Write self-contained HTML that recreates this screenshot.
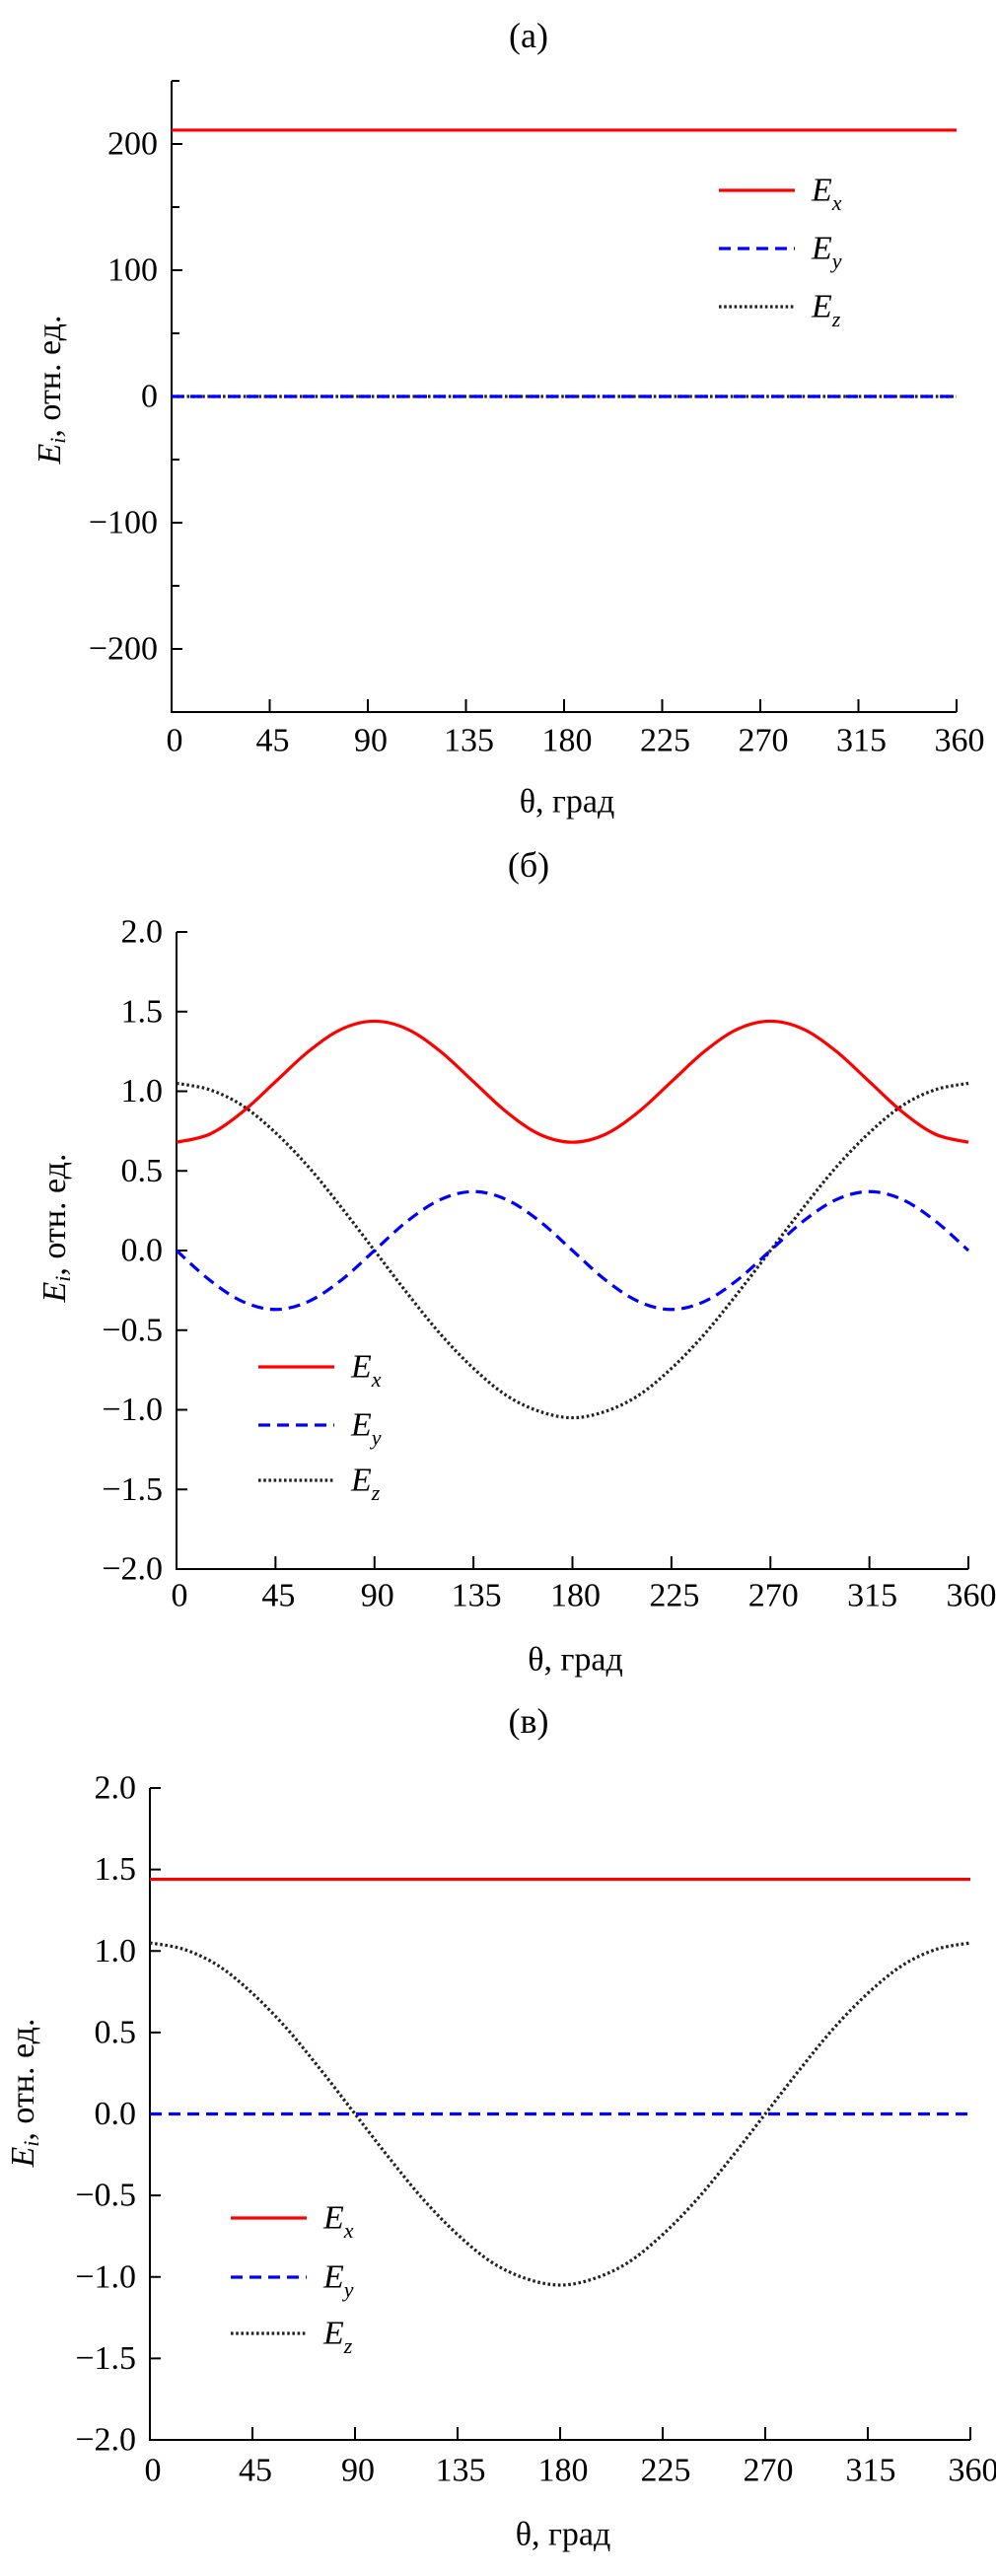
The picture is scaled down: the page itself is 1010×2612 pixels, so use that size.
<!DOCTYPE html>
<html><head><meta charset="utf-8">
<style>
html,body{margin:0;padding:0;background:#fff;}
svg{display:block;font-family:"Liberation Serif","DejaVu Serif",serif;}
</style></head>
<body>
<svg id="fig" width="1010" height="2612" viewBox="0 0 1010 2612" xmlns="http://www.w3.org/2000/svg"></svg>
<script>
// ---- data ----
const thetaTicks = [0,45,90,135,180,225,270,315,360];
const thetaGrid = [0,15,30,45,60,75,90,105,120,135,150,165,180,195,210,225,240,255,270,285,300,315,330,345,360];

// panel (a)
const aTickLabels = ["\u2212200","\u2212100","0","100","200"];
const aTickValues = [-200,-100,0,100,200];
const aEx = [211,211,211,211,211,211,211,211,211,211,211,211,211,211,211,211,211,211,211,211,211,211,211,211,211];
const aEy = [0,0,0,0,0,0,0,0,0,0,0,0,0,0,0,0,0,0,0,0,0,0,0,0,0];
const aEz = [0,0,0,0,0,0,0,0,0,0,0,0,0,0,0,0,0,0,0,0,0,0,0,0,0];

// panel (б)
const bTickValues = [-2,-1.5,-1,-0.5,0,0.5,1,1.5,2];
const bTickLabels = ["\u22122.0","\u22121.5","\u22121.0","\u22120.5","0.0","0.5","1.0","1.5","2.0"];
const bEx = [0.68,0.73,0.87,1.06,1.25,1.39,1.44,1.39,1.25,1.06,0.87,0.73,0.68,0.73,0.87,1.06,1.25,1.39,1.44,1.39,1.25,1.06,0.87,0.73,0.68];
const bEy = [0,-0.185,-0.32,-0.37,-0.32,-0.185,0,0.185,0.32,0.37,0.32,0.185,0,-0.185,-0.32,-0.37,-0.32,-0.185,0,0.185,0.32,0.37,0.32,0.185,0];
const bEz = [1.05,1.01,0.91,0.74,0.525,0.27,0,-0.27,-0.525,-0.74,-0.91,-1.01,-1.05,-1.01,-0.91,-0.74,-0.525,-0.27,0,0.27,0.525,0.74,0.91,1.01,1.05];

// panel (в)
const cEx = [1.44,1.44,1.44,1.44,1.44,1.44,1.44,1.44,1.44,1.44,1.44,1.44,1.44,1.44,1.44,1.44,1.44,1.44,1.44,1.44,1.44,1.44,1.44,1.44,1.44];
const cEy = [0,0,0,0,0,0,0,0,0,0,0,0,0,0,0,0,0,0,0,0,0,0,0,0,0];
const cEz = [1.05,1.01,0.91,0.74,0.525,0.27,0,-0.27,-0.525,-0.74,-0.91,-1.01,-1.05,-1.01,-0.91,-0.74,-0.525,-0.27,0,0.27,0.525,0.74,0.91,1.01,1.05];

const NS = "http://www.w3.org/2000/svg";
const svg = document.getElementById('fig');
function mk(tag, attrs, parent){
  const e = document.createElementNS(NS, tag);
  for (const k in attrs) e.setAttribute(k, attrs[k]);
  (parent||svg).appendChild(e);
  return e;
}
function smoothPath(pts){
  let d = "M"+pts[0][0].toFixed(2)+","+pts[0][1].toFixed(2);
  for (let i=0;i<pts.length-1;i++){
    const p0 = pts[i-1]||pts[i], p1=pts[i], p2=pts[i+1], p3=pts[i+2]||pts[i+1];
    const c1x=p1[0]+(p2[0]-p0[0])/6, c1y=p1[1]+(p2[1]-p0[1])/6;
    const c2x=p2[0]-(p3[0]-p1[0])/6, c2y=p2[1]-(p3[1]-p1[1])/6;
    d += " C"+c1x.toFixed(2)+","+c1y.toFixed(2)+" "+c2x.toFixed(2)+","+c2y.toFixed(2)+" "+p2[0].toFixed(2)+","+p2[1].toFixed(2);
  }
  return d;
}
const styles = {
  Ex:{stroke:"#ff0000", dash:null, w:3.2},
  Ey:{stroke:"#0000ff", dash:"12 7", w:3.2},
  Ez:{stroke:"#222222", dash:"2.6 2.6", w:3.2}
};

function panel(cfg){
  const g = mk('g',{});
  
  
  const X = v => cfg.x0 + (v/360)*(cfg.x1-cfg.x0);
  const Y = v => cfg.yZero - v*cfg.yScale;
  const yTop = Y(cfg.yMax), yBot = Y(cfg.yMin);
  let t = mk('text',{x:cfg.titleX,y:cfg.titleY,'font-size':36,'text-anchor':'middle','dominant-baseline':'central'},g);
  t.textContent = cfg.title;
  
  
  let ax = mk('path',{d:`M${cfg.x0},${yTop} L${cfg.x0},${yBot} L${cfg.x1},${yBot}`,fill:'none',stroke:'#000','stroke-width':2},g);
  
  
  cfg.yTicks.forEach((v,i)=>{
    mk('line',{x1:cfg.x0,x2:cfg.x0+11,y1:Y(v),y2:Y(v),stroke:'#000','stroke-width':2},g);
    const lb = mk('text',{x:cfg.x0-14,y:Y(v),'font-size':34,'text-anchor':'end','dominant-baseline':'central'},g);
    lb.textContent = cfg.yLabels[i];
    
    
  });
  (cfg.yMinor||[]).forEach(v=>{
    mk('line',{x1:cfg.x0,x2:cfg.x0+8,y1:Y(v),y2:Y(v),stroke:'#000','stroke-width':2},g);
  });
  thetaTicks.forEach(v=>{
    mk('line',{x1:X(v),x2:X(v),y1:yBot,y2:yBot-13,stroke:'#000','stroke-width':2},g);
    const lb = mk('text',{x:X(v)+3,y:cfg.xLabY,'font-size':34,'text-anchor':'middle','dominant-baseline':'central'},g);
    lb.textContent = String(v);
    
    
  });
  const xt = mk('text',{x:(cfg.x0+cfg.x1)/2+3,y:cfg.xTitleY,'font-size':34,'text-anchor':'middle','dominant-baseline':'central'},g);
  xt.textContent = "θ, град";
  
  
  const yt = mk('text',{transform:`translate(${cfg.yTitleX},${cfg.yTitleY}) rotate(-90)`,'font-size':34,'text-anchor':'middle','dominant-baseline':'central'},g);
  yt.innerHTML = '<tspan font-style="italic">E</tspan><tspan font-style="italic" font-size="22" dy="8">i</tspan><tspan dy="-8">, отн. ед.</tspan>';
  
  
  [['Ex',cfg.ex],['Ey',cfg.ey],['Ez',cfg.ez]].slice().reverse().forEach(([k,arr])=>{
    const pts = thetaGrid.map((th,i)=>[X(th),Y(arr[i])]);
    const s = styles[k];
    const p = mk('path',{d:smoothPath(pts),fill:'none',stroke:s.stroke,'stroke-width':s.w},g);
    if (s.dash) p.setAttribute('stroke-dasharray', s.dash);
    
    
  });
  const lg = mk('g',{},g);
  
  
  const subs = {Ex:'x',Ey:'y',Ez:'z'};
  ['Ex','Ey','Ez'].forEach((k,i)=>{
    const y = cfg.legY[i];
    const s = styles[k];
    const ln = mk('line',{x1:cfg.legX,x2:cfg.legX+77,y1:y,y2:y,stroke:s.stroke,'stroke-width':s.w},lg);
    if (s.dash) ln.setAttribute('stroke-dasharray', s.dash);
    const tx = mk('text',{x:cfg.legX+94,y:y,'font-size':34,'font-style':'italic','dominant-baseline':'central'},lg);
    tx.innerHTML = 'E<tspan font-size="22" dy="12">'+subs[k]+'</tspan>';
    
    
  });
}

panel({name:'panel-a',title:'(a)',titleX:536,titleY:36,x0:174,x1:970,yZero:402,yScale:1.28,yMin:-250,yMax:250,
  yTicks:aTickValues,yLabels:aTickLabels,yMinor:[-250,-150,-50,50,150,250],
  xLabY:751,xTitleY:813,yTitleX:50,yTitleY:395,ex:aEx,ey:aEy,ez:aEz,legX:729,legY:[193,252,311]});
panel({name:'panel-b',title:'(б)',titleX:536,titleY:877,x0:179,x1:982,yZero:1268,yScale:161.5,yMin:-2,yMax:2,
  yTicks:bTickValues,yLabels:bTickLabels,
  xLabY:1618,xTitleY:1683,yTitleX:55,yTitleY:1245,ex:bEx,ey:bEy,ez:bEz,legX:262,legY:[1386,1445,1501]});
panel({name:'panel-c',title:'(в)',titleX:536,titleY:1745,x0:152,x1:984,yZero:2143.5,yScale:165.25,yMin:-2,yMax:2,
  yTicks:bTickValues,yLabels:bTickLabels,
  xLabY:2505,xTitleY:2570,yTitleX:23,yTitleY:2122,ex:cEx,ey:cEy,ez:cEz,legX:234,legY:[2249,2309,2366]});
</script>
</body></html>
